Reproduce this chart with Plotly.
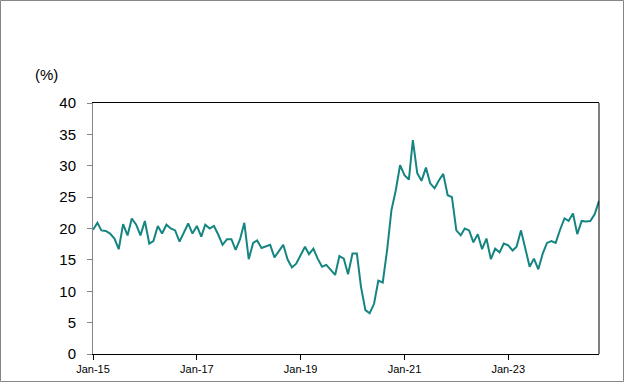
import pandas as pd
import plotly.graph_objects as go

values = [
    19.8, 20.9, 19.7, 19.6, 19.2, 18.4, 16.7, 20.7, 18.9, 21.6, 20.6, 18.9,
    21.2, 17.6, 18.0, 20.4, 19.2, 20.6, 20.0, 19.7, 17.9, 19.2, 20.8, 19.2,
    20.4, 18.7, 20.6, 20.0, 20.4, 19.0, 17.4, 18.3, 18.3, 16.6, 18.3, 20.9,
    15.1, 17.7, 18.1, 16.9, 17.2, 17.4, 15.4, 16.5, 17.4, 15.1, 13.8, 14.4,
    15.8, 17.1, 15.9, 16.8, 15.2, 13.9, 14.2, 13.4, 12.6, 15.6, 15.2, 12.7,
    16.0, 16.0, 10.7, 7.0, 6.5, 8.0, 11.7, 11.4, 16.6, 22.9, 26.1, 30.1,
    28.5, 27.8, 34.1, 28.8, 27.6, 29.7, 27.2, 26.4, 27.7, 28.7, 25.3, 25.0,
    19.7, 18.9, 20.0, 19.7, 17.8, 19.1, 16.7, 18.4, 15.1, 16.8, 16.2, 17.6,
    17.3, 16.5, 17.1, 19.7, 16.8, 13.9, 15.2, 13.5, 16.0, 17.7, 18.0, 17.7,
    19.8, 21.6, 21.2, 22.4, 19.1, 21.2, 21.1, 21.2, 22.3, 24.4,
]
dates = pd.date_range("2015-01-01", periods=len(values), freq="MS")

tick_dates = ["2015-01-01", "2017-01-01", "2019-01-01", "2021-01-01", "2023-01-01"]
tick_labels = ["Jan-15", "Jan-17", "Jan-19", "Jan-21", "Jan-23"]
y_ticks = [0, 5, 10, 15, 20, 25, 30, 35, 40]

fig = go.Figure()
fig.add_trace(go.Scatter(
    x=dates, y=values, mode="lines",
    line=dict(color="#158581", width=2),
    hoverinfo="skip", showlegend=False,
))

W, H = 624, 382
ml, mr, mt, mb = 93, 25, 103, 28
pw, ph = W - ml - mr, H - mt - mb

fig.update_layout(
    width=W, height=H,
    margin=dict(l=ml, r=mr, t=mt, b=mb, autoexpand=False),
    paper_bgcolor="white", plot_bgcolor="white",
    font=dict(family="Arial, Liberation Sans, sans-serif", color="#000000"),
    xaxis=dict(
        range=[dates[0], dates[-1]],
        tickvals=tick_dates, ticktext=tick_labels,
        showgrid=False, zeroline=False, automargin=False,
        showline=True, linecolor="#000000", linewidth=1, mirror=True,
        ticks="outside", ticklen=5, tickcolor="#000000", tickwidth=1,
        tickfont=dict(size=11, color="#000000"),
    ),
    yaxis=dict(
        range=[0, 40], tickvals=y_ticks,
        showgrid=False, zeroline=False, automargin=False,
        showline=True, linecolor="#868686", linewidth=1,
        ticks="outside", ticklen=5, tickcolor="#868686", tickwidth=1,
        tickfont=dict(size=15, color="#000000"),
        ticklabelstandoff=8,
    ),
    shapes=[
        dict(type="line", xref="paper", yref="paper", x0=1, x1=1, y0=0, y1=1,
             line=dict(color="#000000", width=1)),
        dict(type="rect", xref="paper", yref="paper",
             x0=-(ml - 0.5) / pw, x1=1 + (mr - 0.5) / pw,
             y0=-(mb - 0.5) / ph, y1=1 + (mt - 0.5) / ph,
             line=dict(color="#868686", width=1), fillcolor="rgba(0,0,0,0)"),
    ],
    annotations=[
        dict(text="(%)", xref="paper", yref="paper",
             x=-(ml - 46) / pw, y=1 + (103 - 74) / ph,
             xanchor="center", yanchor="middle", showarrow=False,
             font=dict(size=15, color="#000000")),
    ],
)

fig.write_html(
    "out.html",
    config={"displayModeBar": False, "staticPlot": True},
    post_script="document.body.style.margin='0';document.body.style.overflow='hidden';",
)
